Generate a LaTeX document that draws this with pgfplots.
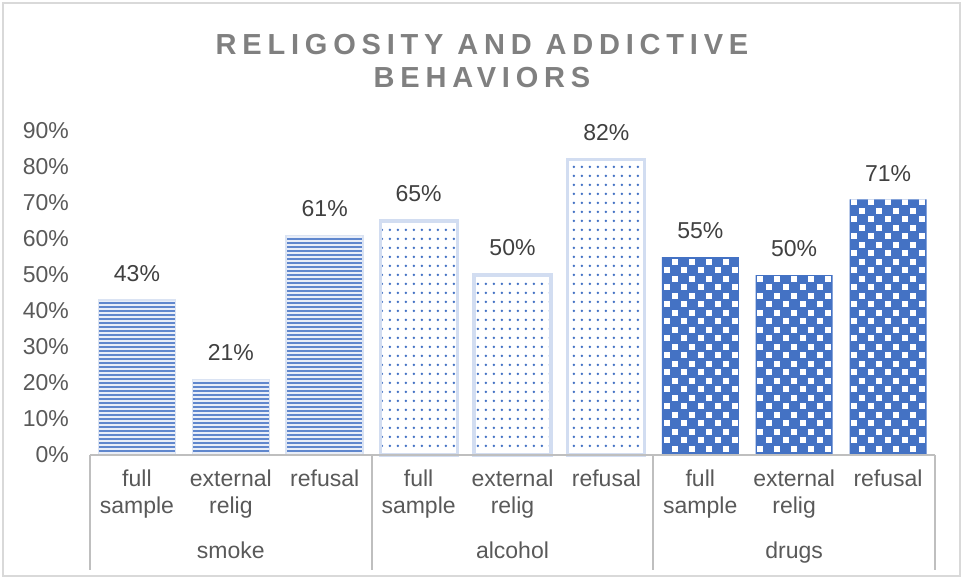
\documentclass[border=0pt]{standalone}
\usepackage{fontspec}
\setmainfont{Liberation Sans}
\usepackage{pgfplots}
\pgfplotsset{compat=1.18}
\usetikzlibrary{patterns,patterns.meta}
\definecolor{xblue}{HTML}{4472C4}
\definecolor{lightblue}{HTML}{DAE3F3}
\definecolor{edgeblue}{HTML}{B4C7E7}
\definecolor{axgray}{HTML}{BFBFBF}
\definecolor{ticktext}{HTML}{595959}
\definecolor{labtext}{HTML}{404040}
\definecolor{titlegray}{HTML}{808080}
\definecolor{framegray}{HTML}{D9D9D9}
\pgfdeclarepatternformonly{bigcheck}{\pgfpointorigin}{\pgfqpoint{8.5pt}{8.5pt}}{\pgfqpoint{8.5pt}{8.5pt}}{%
  \pgfpathrectangle{\pgfqpoint{0.6pt}{0.6pt}}{\pgfqpoint{3.05pt}{3.05pt}}%
  \pgfpathrectangle{\pgfqpoint{4.85pt}{4.85pt}}{\pgfqpoint{3.05pt}{3.05pt}}%
  \pgfusepath{fill}}
\pgfdeclarepatternformonly{hstripes}{\pgfpointorigin}{\pgfqpoint{20pt}{2.2pt}}{\pgfqpoint{20pt}{2.2pt}}{%
  \pgfpathrectangle{\pgfqpoint{-1pt}{0pt}}{\pgfqpoint{22pt}{1.05pt}}%
  \pgfusepath{fill}}
\pgfdeclarepatternformonly{bigdots}{\pgfpointorigin}{\pgfqpoint{4.2pt}{4.3pt}}{\pgfqpoint{4.2pt}{4.3pt}}{%
  \pgfpathcircle{\pgfqpoint{2.1pt}{2.15pt}}{0.7pt}%
  \pgfusepath{fill}}
\begin{document}
\begin{tikzpicture}
\useasboundingbox (0,0) rectangle (481.5pt,289.5pt);
\draw[framegray, line width=1pt] (1.5pt,1.5pt) rectangle (480pt,288pt);
\node[font=\fontsize{14.5}{16.5}\selectfont\bfseries\addfontfeature{LetterSpace=20}, text=titlegray, align=center] at (241pt,258.75pt) {RELIGOSITY AND ADDICTIVE\\BEHAVIORS};
\begin{axis}[
  at={(45pt,62pt)}, anchor=south west,
  scale only axis, width=422.5pt, height=162pt,
  xmin=-0.5, xmax=8.5, ymin=0, ymax=90,
  axis line style={draw=none},
  major tick length=0pt,
  clip=false,
  ybar, bar width=0.82,
  ytick={0,10,...,90},
  yticklabel={\pgfmathprintnumber{\tick}\%},
  yticklabel style={font=\fontsize{11.5}{13.8}\selectfont, text=ticktext, xshift=-7pt},
  xtick={0,...,8},
  xticklabels={full\\sample, external\\relig, refusal, full\\sample, external\\relig, refusal, full\\sample, external\\relig, refusal},
  xticklabel style={font=\fontsize{11.5}{13.5}\selectfont, text=ticktext, align=center, anchor=north, yshift=-4pt},
  /pgf/number format/assume math mode=true,
  nodes near coords={\pgfmathprintnumber{\pgfplotspointmeta}\%},
  nodes near coords style={font=\fontsize{11.5}{13.8}\selectfont, text=labtext, yshift=5.5pt},
]
\addplot[bar shift=0pt, draw=lightblue, line width=0.8pt, fill=lightblue!60!white,
  postaction={pattern=hstripes, pattern color=xblue!85!white}]
  coordinates {(0,43) (1,21) (2,61)};
\addplot[bar shift=0pt, draw=edgeblue!60!white, line width=1.6pt, fill=white,
  postaction={pattern=bigdots, pattern color=xblue}]
  coordinates {(3,65) (4,50) (5,82)};
\addplot[bar shift=0pt, draw=none, fill=xblue,
  postaction={pattern=bigcheck, pattern color=white}]
  coordinates {(6,55) (7,50) (8,71)};
\draw[axgray, line width=1pt] (axis cs:-0.5,0) -- (axis cs:8.5,0);
\draw[axgray, line width=1pt] (axis cs:-0.5,0) -- ++(0pt,-57.5pt);
\draw[axgray, line width=1pt] (axis cs:2.5,0) -- ++(0pt,-57.5pt);
\draw[axgray, line width=1pt] (axis cs:5.5,0) -- ++(0pt,-57.5pt);
\draw[axgray, line width=1pt] (axis cs:8.5,0) -- ++(0pt,-57.5pt);
\node[anchor=base, font=\fontsize{11.5}{13.8}\selectfont, text=ticktext] at ([yshift=-51.5pt]axis cs:1,0) {smoke};
\node[anchor=base, font=\fontsize{11.5}{13.8}\selectfont, text=ticktext] at ([yshift=-51.5pt]axis cs:4,0) {alcohol};
\node[anchor=base, font=\fontsize{11.5}{13.8}\selectfont, text=ticktext] at ([yshift=-51.5pt]axis cs:7,0) {drugs};
\end{axis}
\end{tikzpicture}
\end{document}
